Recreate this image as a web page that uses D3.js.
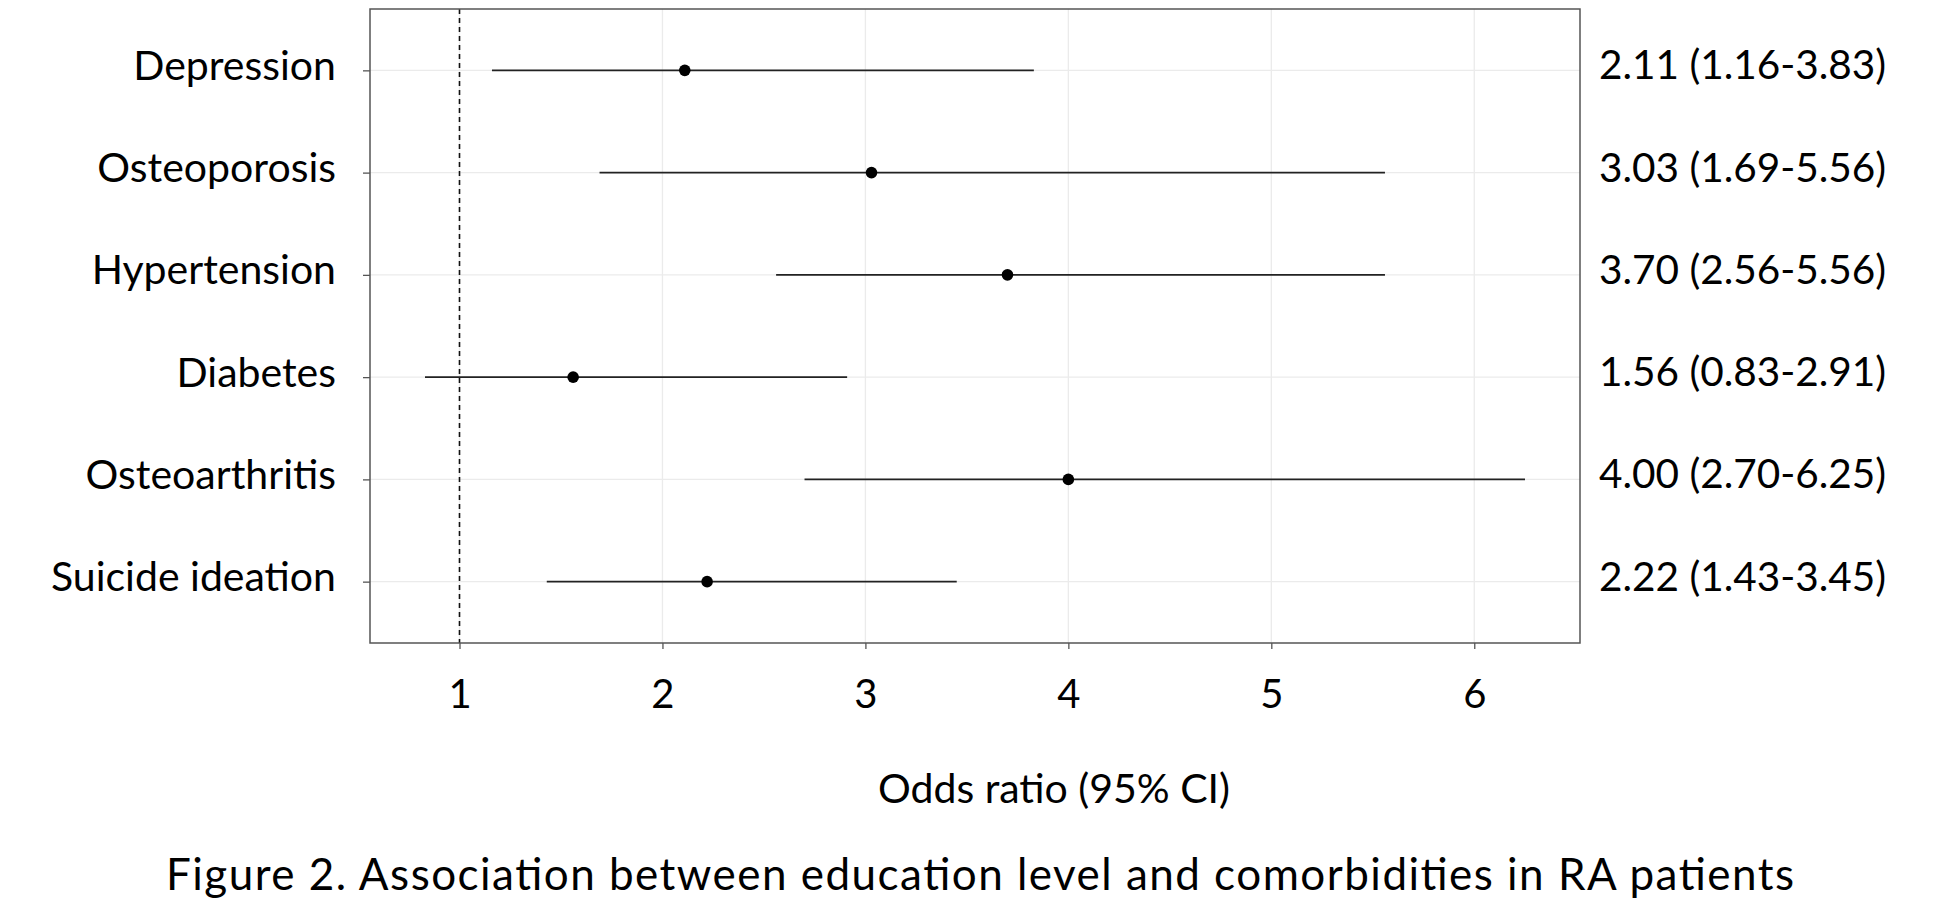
<!DOCTYPE html>
<html>
<head>
<meta charset="utf-8">
<script src="https://cdn.jsdelivr.net/npm/d3@7"></script>
<style>
  html, body { margin: 0; padding: 0; background: #fff; }
  text { font-family: Lato, "Open Sans", sans-serif; fill: #000; }
</style>
</head>
<body>
<svg id="chart" width="1960" height="900"></svg>
<script>
const categories = ["Depression", "Osteoporosis", "Hypertension", "Diabetes", "Osteoarthritis", "Suicide ideation"];
const oddsRatio = [2.11, 3.03, 3.70, 1.56, 4.00, 2.22];
const ciLow     = [1.16, 1.69, 2.56, 0.83, 2.70, 1.43];
const ciHigh    = [3.83, 5.56, 5.56, 2.91, 6.25, 3.45];
const ciLabels  = ["2.11 (1.16-3.83)", "3.03 (1.69-5.56)", "3.70 (2.56-5.56)", "1.56 (0.83-2.91)", "4.00 (2.70-6.25)", "2.22 (1.43-3.45)"];
const xTicks    = [1, 2, 3, 4, 5, 6];
const xTitle    = "Odds ratio (95% CI)";
const caption   = "Figure 2. Association between education level and comorbidities in RA patients";

const svg = d3.select("#chart");
const panel = { left: 370, right: 1580, top: 9, bottom: 643 };

const lo = d3.min(ciLow), hi = d3.max(ciHigh), pad = (hi - lo) * 0.05;
const x = d3.scaleLinear().domain([lo - pad, hi + pad]).range([panel.left, panel.right]);
const y = d3.scalePoint().domain(categories).range([panel.top, panel.bottom]).padding(0.6);

// grid
svg.append("g").selectAll("line.vg").data(xTicks).join("line")
  .attr("x1", d => x(d)).attr("x2", d => x(d))
  .attr("y1", panel.top).attr("y2", panel.bottom)
  .attr("stroke", "#ebebeb").attr("stroke-width", 1.3);
svg.append("g").selectAll("line.hg").data(categories).join("line")
  .attr("x1", panel.left).attr("x2", panel.right)
  .attr("y1", d => y(d)).attr("y2", d => y(d))
  .attr("stroke", "#ebebeb").attr("stroke-width", 1.3);

// reference line at 1
svg.append("line")
  .attr("x1", x(1)).attr("x2", x(1))
  .attr("y1", panel.top).attr("y2", panel.bottom)
  .attr("stroke", "#111").attr("stroke-width", 1.6)
  .attr("stroke-dasharray", "5,4");

// CI lines
svg.append("g").selectAll("line").data(categories).join("line")
  .attr("x1", (d, i) => x(ciLow[i])).attr("x2", (d, i) => x(ciHigh[i]))
  .attr("y1", d => y(d)).attr("y2", d => y(d))
  .attr("stroke", "#222").attr("stroke-width", 1.6);

// points
svg.append("g").selectAll("circle").data(categories).join("circle")
  .attr("cx", (d, i) => x(oddsRatio[i])).attr("cy", d => y(d))
  .attr("r", 5.8).attr("fill", "#000");

// panel border
svg.append("rect")
  .attr("x", panel.left).attr("y", panel.top)
  .attr("width", panel.right - panel.left).attr("height", panel.bottom - panel.top)
  .attr("fill", "none").attr("stroke", "#555").attr("stroke-width", 1.5);

// x axis
const xAxis = d3.axisBottom(x).tickValues(xTicks).tickSize(6).tickPadding(0).tickFormat(d3.format("d"));
const gx = svg.append("g").attr("transform", `translate(0,${panel.bottom})`).call(xAxis);
gx.select(".domain").remove();
gx.selectAll(".tick line").attr("stroke", "#555").attr("stroke-width", 1.3);
gx.selectAll(".tick text").attr("y", 65).attr("dy", null)
  .style("font-family", "Lato, sans-serif").style("font-size", "40px").attr("fill", "#000");

// y axis
const yAxis = d3.axisLeft(y).tickSize(7).tickPadding(27);
const gy = svg.append("g").attr("transform", `translate(${panel.left},0)`).call(yAxis);
gy.select(".domain").remove();
gy.selectAll(".tick line").attr("stroke", "#555").attr("stroke-width", 1.3);
gy.selectAll(".tick text").attr("dy", "0.22em")
  .style("font-family", "Lato, sans-serif").style("font-size", "41px").attr("fill", "#000");

// right labels
svg.append("g").selectAll("text").data(categories).join("text")
  .attr("x", panel.right + 19).attr("y", d => y(d) + 9)
  .style("font-size", "40.5px")
  .text((d, i) => ciLabels[i]);

// axis title
svg.append("text")
  .attr("x", 1054).attr("y", 803).attr("text-anchor", "middle")
  .style("font-size", "41px")
  .text(xTitle);

// caption
svg.append("text")
  .attr("x", 166).attr("y", 890)
  .attr("textLength", 1628).attr("lengthAdjust", "spacing")
  .style("font-size", "44px")
  .text(caption);
</script>
</body>
</html>
